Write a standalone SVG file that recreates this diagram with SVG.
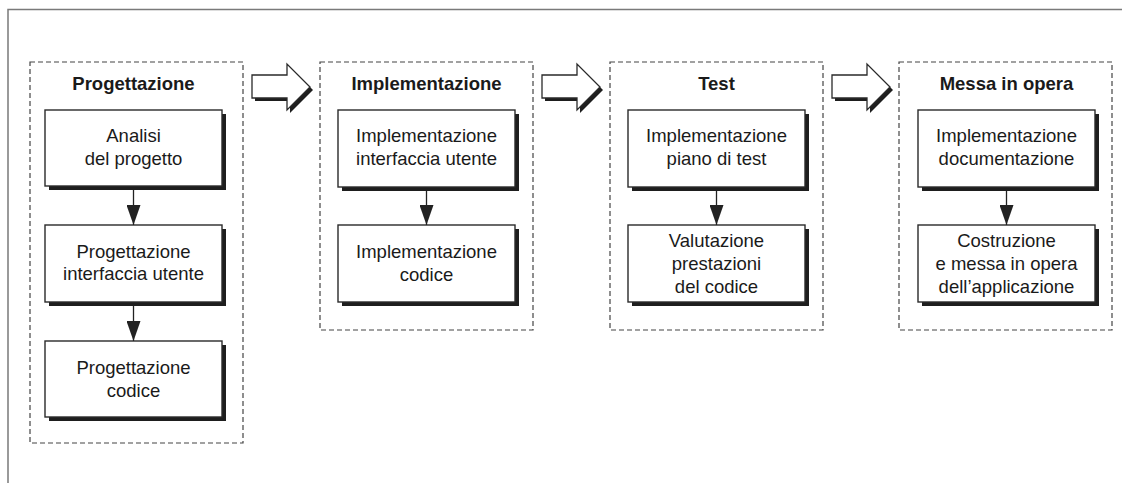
<svg xmlns="http://www.w3.org/2000/svg" width="1122" height="483" viewBox="0 0 1122 483">
<style>
.frame{fill:none;stroke:#7a7a7a;stroke-width:1.5}
.group{fill:none;stroke:#444;stroke-width:1.2;stroke-dasharray:5 3}
.title{font-family:"Liberation Sans",Arial,sans-serif;font-size:18.5px;font-weight:bold;fill:#1a1a1a;text-anchor:middle}
.lbl{font-family:"Liberation Sans",Arial,sans-serif;font-size:18.5px;fill:#1a1a1a;text-anchor:middle}
.box{fill:#fff;stroke:#2a2a2a;stroke-width:1.4}
.shadow{fill:#1e1e1e}
.conn{stroke:#222;stroke-width:1.3;fill:none}
.big{fill:#fff;stroke:#2a2a2a;stroke-width:1.3;stroke-linejoin:miter}
.bigsh{fill:#1e1e1e}
</style>
<defs>
<marker id="ah" markerWidth="20" markerHeight="14" refX="20" refY="7" orient="auto" markerUnits="userSpaceOnUse" viewBox="0 0 20 14">
<path d="M0,0 L20,7 L0,14 Z" fill="#222"/>
</marker>
<path id="blk" d="M0,75 L35,75 L35,64 L58,87 L35,110 L35,98 L0,98 Z"/>
</defs>
<rect width="1122" height="483" fill="#fff"/>
<path class="frame" d="M8,483 L8,9.5 L1122,9.5"/>

<g id="phase-progettazione">
<rect class="group" x="30" y="62" width="213" height="381"/>
<text class="title" x="133.5" y="90">Progettazione</text>
</g>
<g id="phase-implementazione">
<rect class="group" x="320" y="62" width="213" height="268"/>
<text class="title" x="426.5" y="90">Implementazione</text>
</g>
<g id="phase-test">
<rect class="group" x="610" y="62" width="213" height="268"/>
<text class="title" x="716.5" y="90">Test</text>
</g>
<g id="phase-messa">
<rect class="group" x="899" y="62" width="213" height="268"/>
<text class="title" x="1006.5" y="90">Messa in opera</text>
</g>

<g id="analisi">
<rect class="shadow" x="49" y="114" width="177" height="76"/>
<rect class="box" x="45" y="110" width="177" height="76"/>
<text class="lbl" x="133.5" y="142">Analisi</text>
<text class="lbl" x="133.5" y="165">del progetto</text>
</g>
<g id="prog-interfaccia">
<rect class="shadow" x="49" y="229" width="177" height="77"/>
<rect class="box" x="45" y="225" width="177" height="77"/>
<text class="lbl" x="133.5" y="257.5">Progettazione</text>
<text class="lbl" x="133.5" y="280">interfaccia utente</text>
</g>
<g id="prog-codice">
<rect class="shadow" x="49" y="345" width="177" height="76"/>
<rect class="box" x="45" y="341" width="177" height="76"/>
<text class="lbl" x="133.5" y="373.5">Progettazione</text>
<text class="lbl" x="133.5" y="396.5">codice</text>
</g>

<g id="impl-interfaccia">
<rect class="shadow" x="342" y="114" width="177" height="77"/>
<rect class="box" x="338" y="110" width="177" height="77"/>
<text class="lbl" x="426.5" y="141.5">Implementazione</text>
<text class="lbl" x="426.5" y="164.5">interfaccia utente</text>
</g>
<g id="impl-codice">
<rect class="shadow" x="342" y="229" width="177" height="77"/>
<rect class="box" x="338" y="225" width="177" height="77"/>
<text class="lbl" x="426.5" y="258">Implementazione</text>
<text class="lbl" x="426.5" y="281">codice</text>
</g>

<g id="impl-test">
<rect class="shadow" x="632" y="114" width="177" height="77"/>
<rect class="box" x="628" y="110" width="177" height="77"/>
<text class="lbl" x="716.5" y="141.5">Implementazione</text>
<text class="lbl" x="716.5" y="164.5">piano di test</text>
</g>
<g id="valutazione">
<rect class="shadow" x="632" y="229" width="177" height="77"/>
<rect class="box" x="628" y="225" width="177" height="77"/>
<text class="lbl" x="716.5" y="247">Valutazione</text>
<text class="lbl" x="716.5" y="270">prestazioni</text>
<text class="lbl" x="716.5" y="293">del codice</text>
</g>

<g id="impl-doc">
<rect class="shadow" x="922" y="114" width="177" height="77"/>
<rect class="box" x="918" y="110" width="177" height="77"/>
<text class="lbl" x="1006.5" y="141.5">Implementazione</text>
<text class="lbl" x="1006.5" y="164.5">documentazione</text>
</g>
<g id="costruzione">
<rect class="shadow" x="922" y="229" width="177" height="77"/>
<rect class="box" x="918" y="225" width="177" height="77"/>
<text class="lbl" x="1006.5" y="246.5">Costruzione</text>
<text class="lbl" x="1006.5" y="269.5">e messa in opera</text>
<text class="lbl" x="1006.5" y="292.5">dell’applicazione</text>
</g>

<g id="connectors">
<line class="conn" x1="133.5" y1="190" x2="133.5" y2="225" marker-end="url(#ah)"/>
<line class="conn" x1="133.5" y1="306" x2="133.5" y2="341" marker-end="url(#ah)"/>
<line class="conn" x1="426.5" y1="191" x2="426.5" y2="225" marker-end="url(#ah)"/>
<line class="conn" x1="716.5" y1="191" x2="716.5" y2="225" marker-end="url(#ah)"/>
<line class="conn" x1="1006.5" y1="191" x2="1006.5" y2="225" marker-end="url(#ah)"/>
<g transform="translate(252,0)">
<use href="#blk" class="bigsh" transform="translate(3,3)"/>
<use href="#blk" class="big"/>
</g>
<g transform="translate(542,0)">
<use href="#blk" class="bigsh" transform="translate(3,3)"/>
<use href="#blk" class="big"/>
</g>
<g transform="translate(832,0)">
<use href="#blk" class="bigsh" transform="translate(3,3)"/>
<use href="#blk" class="big"/>
</g>
</g>
</svg>
